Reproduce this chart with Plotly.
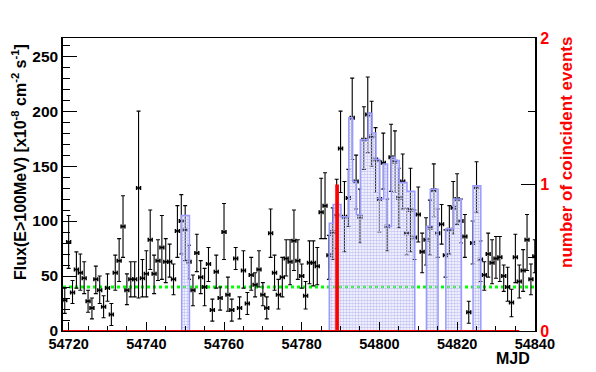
import plotly.graph_objects as go

# ---------------- data ----------------
mjd = list(range(54719, 54841))
flux = [28, 81, 35, 56, 53, 48, 27, 21, 47, 37,
        22, 39, 15, 53, 64, 95, 37, 47, 47, 130,
        48, 52, 83, 52, 64, 76, 63, 63, 47, 91,
        100, 92, 63, 37, 71, 49, 40, 61, 19, 54,
        30, 90, 33, 19, 66, 21, 55, 25, 51, 42,
        56, 33, 21, 89, 53, 33, 49, 66, 63, 82,
        64, 50, 32, 62, 62, 59, 108, 114, 69, 90,
        105, 166, 104, 121, 194, 136, 104, 174, 197, 177,
        156, 120, 153, 95, 158, 154, 121, 136, 89, 110,
        85, 106, 72, 83, 94, 128, 89, 97, 69, 92,
        112, 120, 100, 86, 17, 80, 131, 65, 51, 70,
        62, 66, 67, 50, 40, 26, 67, 45, 55, 83,
        47, 68]
err_up = [11, 24, 11, 16, 17, 15, 10, 9, 12, 13,
          10, 13, 10, 16, 20, 28, 15, 16, 16, 70,
          17, 21, 27, 17, 19, 29, 21, 16, 14, 23,
          24, 22, 15, 14, 17, 15, 17, 15, 10, 15,
          10, 26, 16, 10, 10, 10, 18, 10, 16, 11,
          17, 11, 10, 22, 16, 14, 18, 17, 20, 28,
          19, 11, 13, 20, 20, 17, 31, 30, 18, 22,
          33, 34, 32, 26, 36, 24, 25, 30, 34, 32,
          29, 35, 27, 25, 30, 28, 27, 25, 23, 38,
          25, 25, 17, 20, 25, 24, 22, 18, 23, 22,
          24, 23, 20, 20, 10, 20, 23, 17, 12, 19,
          21, 20, 19, 10, 18, 12, 21, 15, 19, 23,
          14, 15]
err_dn = [12, 24, 10, 17, 16, 14, 10, 10, 13, 12,
          10, 12, 10, 16, 19, 28, 13, 16, 16, 100,
          17, 21, 27, 18, 18, 29, 19, 14, 14, 24,
          30, 28, 16, 14, 17, 15, 17, 16, 10, 15,
          11, 25, 15, 10, 10, 10, 16, 10, 14, 11,
          16, 10, 10, 22, 16, 13, 18, 16, 21, 27,
          17, 11, 12, 19, 21, 17, 24, 30, 22, 25,
          30, 40, 32, 26, 38, 25, 24, 27, 35, 27,
          30, 30, 24, 22, 31, 28, 27, 25, 20, 38,
          20, 25, 19, 23, 25, 24, 22, 18, 20, 22,
          24, 23, 20, 19, 10, 19, 23, 20, 14, 21,
          19, 18, 22, 14, 13, 13, 23, 15, 19, 28,
          14, 15]

hist_day = [54749, 54750,
            54787, 54788, 54789, 54790, 54791, 54792, 54793, 54794, 54795, 54796,
            54797, 54798, 54799, 54800, 54801, 54802, 54803, 54804, 54805, 54806,
            54807, 54808,
            54812, 54813, 54814,
            54817, 54818, 54819, 54820,
            54824, 54825]
hist_val = [105, 105,
            98, 115, 115, 104, 104, 194, 136, 106, 174, 174,
            198, 180, 156, 120, 152, 95, 158, 155, 135, 135,
            127, 127,
            95, 129, 129,
            93, 93, 120, 120,
            132, 132]

event_day = [54789.1]
event_count = [1]

baseline_flux = 40
x_range = [54718.55, 54840.05]
red_hist_end = 54836

# ---------------- figure ----------------
FONT = "Liberation Sans"
fig = go.Figure()

# green dotted reference level
fig.add_trace(go.Scatter(x=x_range, y=[baseline_flux, baseline_flux], mode="lines",
                         line=dict(color="#00ff00", width=3, dash="dot"),
                         yaxis="y", hoverinfo="skip"))

# daily flux points
fig.add_trace(go.Scatter(x=mjd, y=flux, mode="markers",
                         marker=dict(size=2, color="black"),
                         error_y=dict(type="data", symmetric=False, array=err_up,
                                      arrayminus=err_dn, width=2, thickness=1.1,
                                      color="black"),
                         error_x=dict(type="constant", value=0.5, width=2,
                                      thickness=1.5, color="black"),
                         yaxis="y"))

# hatched histogram (drawn on an overlay axis so it covers the points)
off = 0.1
fig.add_trace(go.Bar(x=[d + off + 0.5 for d in hist_day], y=hist_val, width=1.0,
                     marker=dict(color="rgba(0,0,0,0)", line=dict(width=0),
                                 pattern=dict(shape=".", fgcolor="#c4c4f4",
                                              bgcolor="rgba(0,0,0,0)", size=3,
                                              solidity=0.55, fillmode="replace")),
                     yaxis="y2"))

# histogram outline
ox, oy = [], []
prev = None
for d, v in zip(hist_day, hist_val):
    left = d + off
    if prev is None or d != prev + 1:
        if prev is not None:
            ox += [prev + off + 1, None]
            oy += [0, None]
        ox += [left]
        oy += [0]
    ox += [left, left + 1]
    oy += [v, v]
    prev = d
ox += [prev + off + 1]
oy += [0]
fig.add_trace(go.Scatter(x=ox, y=oy, mode="lines", line=dict(color="#9a9aff", width=1.5),
                         yaxis="y2", hoverinfo="skip"))

# coincident events (right axis)
fig.add_trace(go.Scatter(x=[x_range[0], red_hist_end], y=[0, 0], mode="lines",
                         line=dict(color="red", width=2), yaxis="y3", hoverinfo="skip"))
fig.add_trace(go.Bar(x=event_day, y=event_count, width=0.95,
                     marker=dict(color="red", line=dict(width=0)), yaxis="y3"))

xtickfont = dict(family=FONT, size=14.5, color="black", weight="bold")
ytickfont = dict(family=FONT, size=15.5, color="black", weight="bold")

# the page body has an 8px margin: the figure is sized/offset to compensate
fig.update_layout(
    width=580, height=356,
    margin=dict(l=55, r=53, t=30, b=33, autoexpand=False),
    paper_bgcolor="white", plot_bgcolor="white",
    showlegend=False, barmode="overlay",
    font=dict(family=FONT),
    xaxis=dict(range=x_range, tickmode="array", tickvals=list(range(54720, 54841, 20)),
               tickformat="d",
               ticks="inside", ticklen=9, tickwidth=1, tickcolor="black",
               minor=dict(dtick=5, ticks="inside", ticklen=5, tickcolor="black"),
               showline=True, linecolor="black", linewidth=1, mirror=True,
               showgrid=False, zeroline=False, tickfont=xtickfont),
    yaxis=dict(range=[0, 266.5], dtick=50, tick0=0, ticks="inside", ticklen=14,
               tickcolor="black",
               minor=dict(dtick=10, ticks="inside", ticklen=7, tickcolor="black"),
               showline=True, linecolor="black", linewidth=1.5,
               showgrid=False, zeroline=False, tickfont=ytickfont),
    yaxis2=dict(range=[0, 266.5], overlaying="y", visible=False),
    yaxis3=dict(range=[0, 2], overlaying="y", side="right", anchor="x",
                dtick=1, tick0=0, ticks="inside", ticklen=14, tickcolor="black",
                minor=dict(dtick=0.5, ticks="inside", ticklen=7, tickcolor="black"),
                showline=True, linecolor="black", linewidth=2,
                showgrid=False, zeroline=False,
                tickfont=dict(family=FONT, size=16, color="red", weight="bold")),
    annotations=[
        dict(text="Flux(E>100MeV) [x10<sup>-8</sup> cm<sup>-2</sup> s<sup>-1</sup>]",
             xref="paper", yref="paper", x=(19 - 63) / 472, y=(331 - 162) / 293,
             xanchor="center", yanchor="middle", textangle=-90, showarrow=False,
             font=dict(family=FONT, size=16, color="black", weight="bold")),
        dict(text="number of coincident events",
             xref="paper", yref="paper", x=(566 - 63) / 472, y=(331 - 153) / 293,
             xanchor="center", yanchor="middle", textangle=-90, showarrow=False,
             font=dict(family=FONT, size=17, color="red", weight="bold")),
        dict(text="MJD", xref="paper", yref="paper", x=(532 - 63) / 472,
             y=(331 - 358) / 293, xanchor="right", yanchor="middle", showarrow=False,
             font=dict(family=FONT, size=16, color="black", weight="bold")),
    ],
)

fig.write_html("out.html")
